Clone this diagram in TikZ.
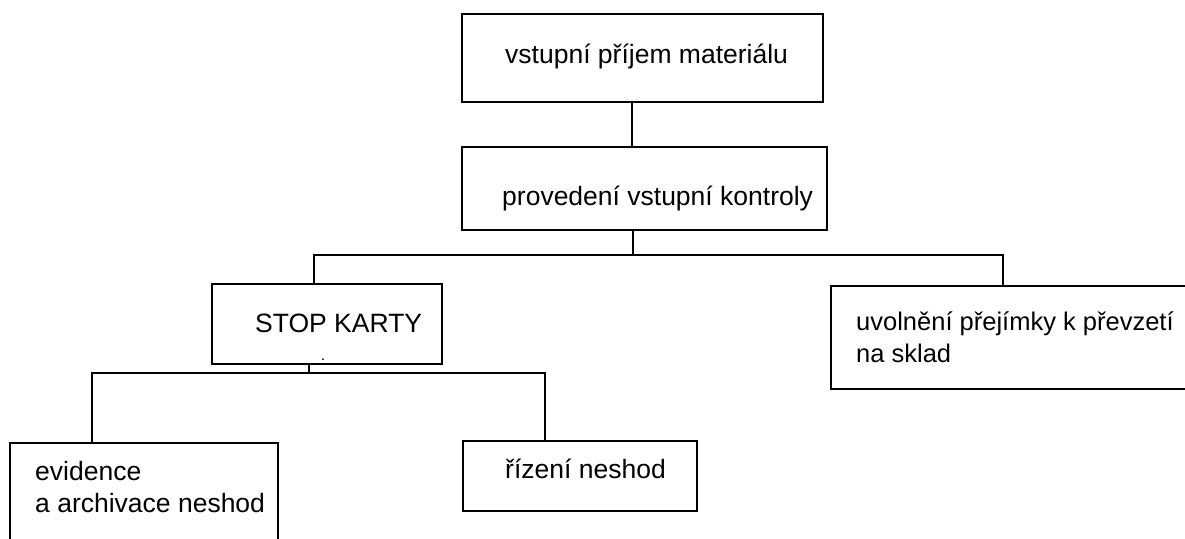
\documentclass[tikz,border=0pt]{standalone}
\usepackage{fontspec}
\setmainfont{Liberation Sans}
\begin{document}
\begin{tikzpicture}[x=1pt, y=-1pt,
  box/.style={draw, line width=1.5pt, inner sep=0pt, anchor=north west},
  txt/.style={anchor=base west, inner sep=0pt, font=\fontsize{26.5}{32}\selectfont},
  narrowtxt/.style={txt, font=\fontsize{25.5}{32}\selectfont},
  wire/.style={line width=1.5pt}]
\useasboundingbox (0,0) rectangle (1185,538);

% boxes
\node[box, minimum width=361pt, minimum height=88pt] (prijem) at (461,13) {};
\node[box, minimum width=365pt, minimum height=83pt] (kontrola) at (461,146) {};
\node[box, minimum width=230pt, minimum height=80pt] (stop) at (211,283) {};
\node[box, minimum width=380pt, minimum height=103pt] (uvolneni) at (830,285) {};
\node[box, minimum width=268pt, minimum height=120pt] (evidence) at (9,442) {};
\node[box, minimum width=234pt, minimum height=70pt] (rizeni) at (462,440) {};

% labels
\node[txt] (tprijem) at (505,63) {vstupní příjem materiálu};
\node[txt] (tkontrola) at (502,205) {provedení vstupní kontroly};
\node[txt] (tstop) at (255,332) {STOP KARTY};
\node[narrowtxt] (tuvol1) at (856,330) {uvolnění přejímky k převzetí};
\node[narrowtxt] (tuvol2) at (856,362) {na sklad};
\node[txt] (tevid1) at (35,480) {evidence};
\node[txt] (tevid2) at (35,512) {a archivace neshod};
\node[txt] (triz) at (505,478) {řízení neshod};

% junction points
\coordinate (j1) at (632,0);
\coordinate (j2) at (633,255);
\coordinate (busl) at (314,255);
\coordinate (busr) at (1003,255);
\coordinate (j3) at (309,373);
\coordinate (bus2l) at (92,373);
\coordinate (bus2r) at (545,373);

% connectors
\draw[wire] (j1 |- prijem.south) -- (j1 |- kontrola.north);
\draw[wire] (j2 |- kontrola.south) -- (j2);
\draw[wire] (busl |- stop.north) -- (busl) -- (busr) -- (busr |- uvolneni.north);
\draw[wire] (j3 |- stop.south) -- (j3);
\draw[wire] (bus2l |- evidence.north) -- (bus2l) -- (bus2r) -- (bus2r |- rizeni.north);

% small mark inside the STOP box
\fill (323,359) circle (1pt);
\end{tikzpicture}
\end{document}
